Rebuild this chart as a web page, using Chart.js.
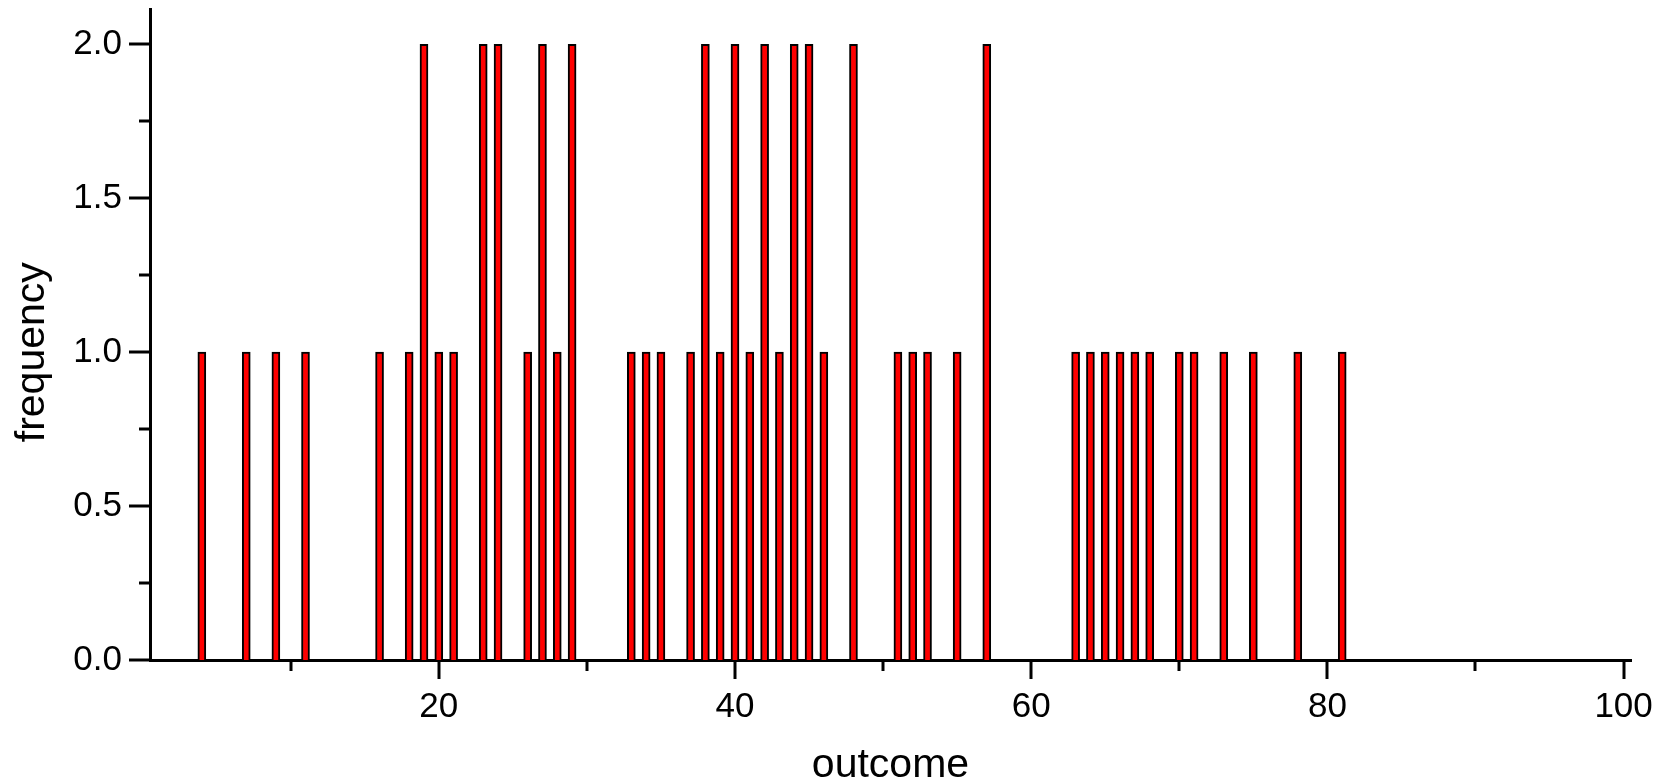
<!DOCTYPE html>
<html>
<head>
<meta charset="utf-8">
<script src="https://cdn.jsdelivr.net/npm/chart.js@4/dist/chart.umd.min.js"></script>
<style>
    html, body { margin: 0; padding: 0; background: #fff; }
    #wrap { width: 1669px; height: 782px; position: relative; }
</style>
</head>
<body>
<div id="wrap"><canvas id="histChart"></canvas></div>
<script>
var outcomes = [4, 7, 9, 11, 16, 18, 19, 20, 21, 23, 24, 26, 27, 28, 29,
    33, 34, 35, 37, 38, 39, 40, 41, 42, 43, 44, 45, 46, 48,
    51, 52, 53, 55, 57, 63, 64, 65, 66, 67, 68, 70, 71, 73, 75, 78, 81];
var frequencies = [1, 1, 1, 1, 1, 1, 2, 1, 1, 2, 2, 1, 2, 1, 2,
    1, 1, 1, 1, 2, 1, 2, 1, 2, 1, 2, 2, 1, 2,
    1, 1, 1, 1, 2, 1, 1, 1, 1, 1, 1, 1, 1, 1, 1, 1, 1];
var xTickValues = [10, 20, 30, 40, 50, 60, 70, 80, 90, 100];
var xLabelValues = [20, 40, 60, 80, 100];
var yTickValues = [0, 0.25, 0.5, 0.75, 1, 1.25, 1.5, 1.75, 2];
var yLabelValues = [0, 0.5, 1, 1.5, 2];
var xTitle = 'outcome';
var yTitle = 'frequency';

var fontFamily = '"Liberation Sans", Arial, Helvetica, sans-serif';

var points = outcomes.map(function(o, i) {
    return { x: o, y: frequencies[i] };
});

// tick marks (long/short) and axis titles, placed with the chart's scales
var axisDecor = {
    id: 'axisDecor',
    afterDraw: function(chart) {
        var ctx = chart.ctx;
        var xs = chart.scales.x;
        var ys = chart.scales.y;
        var area = chart.chartArea;
        ctx.save();
        ctx.strokeStyle = '#000';
        ctx.lineWidth = 3;
        ctx.lineCap = 'butt';
        yTickValues.forEach(function(v) {
            var py = Math.round(ys.getPixelForValue(v));
            var len = yLabelValues.indexOf(v) >= 0 ? 21 : 11;
            ctx.beginPath();
            ctx.moveTo(area.left - len, py);
            ctx.lineTo(area.left, py);
            ctx.stroke();
        });
        xTickValues.forEach(function(v) {
            var px = Math.round(xs.getPixelForValue(v));
            var len = xLabelValues.indexOf(v) >= 0 ? 19 : 11;
            ctx.beginPath();
            ctx.moveTo(px, area.bottom);
            ctx.lineTo(px, area.bottom + len);
            ctx.stroke();
        });

        ctx.fillStyle = '#000';
        ctx.font = '41px ' + fontFamily;
        ctx.textAlign = 'center';
        ctx.textBaseline = 'alphabetic';
        ctx.fillText(xTitle, (area.left + area.right) / 2, area.bottom + 117);

        ctx.translate(44, ys.getPixelForValue(1));
        ctx.rotate(-Math.PI / 2);
        ctx.fillText(yTitle, 0, 0);
        ctx.restore();
    }
};

var chart = new Chart(document.getElementById('histChart'), {
    type: 'bar',
    data: {
        datasets: [{
            data: points,
            backgroundColor: '#ff0000',
            borderColor: '#000000',
            borderWidth: 2,
            barThickness: 8
        }]
    },
    options: {
        responsive: true,
        maintainAspectRatio: false,
        animation: false,
        layout: {
            padding: { top: 9, right: 38, left: 0, bottom: 0 }
        },
        plugins: {
            legend: { display: false },
            tooltip: { enabled: false }
        },
        scales: {
            x: {
                type: 'linear',
                min: 0.5,
                max: 100.5,
                offset: false,
                grid: { display: false, drawTicks: false },
                border: { display: true, color: '#000', width: 3 },
                afterBuildTicks: function(scale) {
                    scale.ticks = xTickValues.map(function(v) { return { value: v }; });
                },
                afterFit: function(scale) {
                    scale.height = 122;
                    scale.paddingLeft = 0;
                    scale.paddingRight = 0;
                },
                ticks: {
                    autoSkip: false,
                    maxRotation: 0,
                    padding: 26,
                    color: '#000',
                    font: { family: fontFamily, size: 35 },
                    callback: function(v) {
                        return xLabelValues.indexOf(v) >= 0 ? String(v) : '';
                    }
                }
            },
            y: {
                min: 0,
                max: 2.115,
                grid: { display: false, drawTicks: false },
                border: { display: true, color: '#000', width: 3 },
                afterBuildTicks: function(scale) {
                    scale.ticks = yTickValues.map(function(v) { return { value: v }; });
                },
                afterFit: function(scale) {
                    scale.width = 150;
                    scale.paddingTop = 0;
                    scale.paddingBottom = 0;
                },
                ticks: {
                    autoSkip: false,
                    padding: 28,
                    color: '#000',
                    font: { family: fontFamily, size: 35 },
                    callback: function(v) {
                        return yLabelValues.indexOf(v) >= 0 ? v.toFixed(1) : '';
                    }
                }
            }
        }
    },
    plugins: [axisDecor]
});
</script>
</body>
</html>
